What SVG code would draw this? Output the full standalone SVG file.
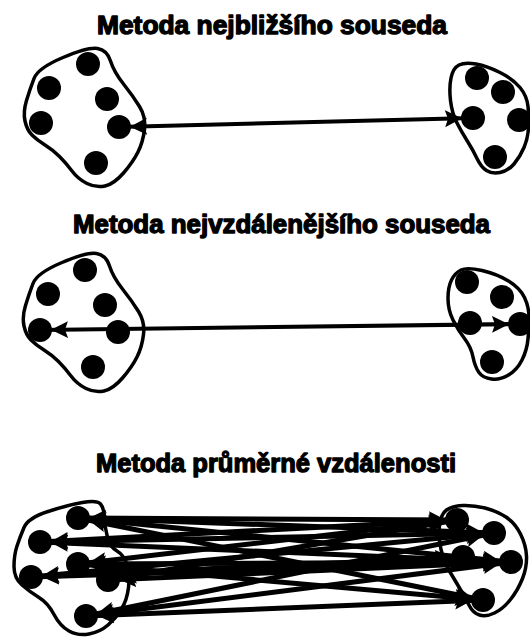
<svg xmlns="http://www.w3.org/2000/svg" width="530" height="637" viewBox="0 0 530 637">
<style>
.title{font-family:"Liberation Sans",Arial,sans-serif;font-weight:bold;font-size:25px;fill:#000;stroke:#000;stroke-width:1.3px;stroke-linejoin:round}
.blob{fill:none;stroke:#000;stroke-width:3.5;stroke-linejoin:round}
.dot{fill:#000}
.link{stroke:#000;stroke-width:4;fill:none;marker-start:url(#ah);marker-end:url(#ah)}
.link5{stroke-width:5}
</style>
<defs>
<marker id="ah" markerUnits="userSpaceOnUse" markerWidth="32" markerHeight="20" viewBox="0 -10 32 20" refX="28" refY="0" orient="auto-start-reverse">
<path d="M0,-8.5 L17,0 L0,8.5 L3,0 Z" fill="#000"/>
</marker>
<path id="blobL" d="M 34,78.5 Q 38,68 63,57.5 Q 88,47 97.5,48.5 Q 107,50 110.5,61 Q 114,72 123.5,84 Q 133,96 139.5,106.5 Q 146,117 144.5,129.5 Q 143,142 138,152 Q 133,162 123.5,173 Q 114,184 105,186 Q 96,188 87,183.5 Q 78,179 72,171 Q 66,163 59.5,156.5 Q 53,150 45,145 Q 37,140 32,135 Q 27,130 25,121 Q 23,112 26.5,100.5 Q 30,89 34,78.5 Z"/>
</defs>
<rect width="530" height="637" fill="#fff"/>

<text class="title" x="97" y="34" textLength="350" lengthAdjust="spacingAndGlyphs">Metoda nejbližšího souseda</text>
<text class="title" x="73" y="233" textLength="417" lengthAdjust="spacingAndGlyphs">Metoda nejvzdálenějšího souseda</text>
<text class="title" x="96" y="472" textLength="360" lengthAdjust="spacingAndGlyphs">Metoda průměrné vzdálenosti</text>

<g id="connectors">
<line class="link" x1="119" y1="127" x2="473" y2="118"/>
<line class="link" x1="40" y1="330" x2="520" y2="324"/>
<line class="link link5" x1="78" y1="518" x2="457" y2="520"/>
<line class="link link5" x1="78" y1="518" x2="494" y2="533"/>
<line class="link link5" x1="78" y1="518" x2="511" y2="562"/>
<line class="link link5" x1="78" y1="518" x2="483" y2="600"/>
<line class="link link5" x1="40" y1="542" x2="457" y2="520"/>
<line class="link link5" x1="40" y1="542" x2="494" y2="533"/>
<line class="link link5" x1="40" y1="542" x2="511" y2="562"/>
<line class="link link5" x1="78" y1="564" x2="457" y2="520"/>
<line class="link link5" x1="78" y1="564" x2="511" y2="562"/>
<line class="link link5" x1="78" y1="564" x2="483" y2="600"/>
<line class="link link5" x1="31" y1="577" x2="494" y2="533"/>
<line class="link link5" x1="31" y1="577" x2="511" y2="562"/>
<line class="link link5" x1="31" y1="577" x2="463" y2="557"/>
<line class="link link5" x1="108" y1="580" x2="457" y2="520"/>
<line class="link link5" x1="108" y1="580" x2="511" y2="562"/>
<line class="link link5" x1="86" y1="616" x2="483" y2="600"/>
<line class="link link5" x1="86" y1="616" x2="511" y2="562"/>
<line class="link link5" x1="86" y1="616" x2="494" y2="533"/>
</g>

<g id="cluster-top-left">
<use href="#blobL" class="blob"/>
<circle class="dot" cx="88" cy="64" r="12"/>
<circle class="dot" cx="49" cy="88" r="12"/>
<circle class="dot" cx="107" cy="99" r="12"/>
<circle class="dot" cx="41" cy="123" r="12"/>
<circle class="dot" cx="119" cy="127" r="12"/>
<circle class="dot" cx="96" cy="163" r="12"/>
</g>

<g id="cluster-top-right">
<path class="blob" d="M 451,78 Q 453,68 459,65 Q 465,62 476,64 Q 487,66 500,72.5 Q 513,79 520,87.5 Q 527,96 528,106.5 Q 529,117 528.5,127.5 Q 528,138 524,147.5 Q 520,157 514,164 Q 508,171 500,172.5 Q 492,174 486.5,170.5 Q 481,167 477,158.5 Q 473,150 467,140.5 Q 461,131 456.5,122 Q 452,113 450.5,100.5 Q 449,88 451,78 Z"/>
<circle class="dot" cx="477" cy="78" r="12"/>
<circle class="dot" cx="503" cy="92" r="12"/>
<circle class="dot" cx="473" cy="118" r="12"/>
<circle class="dot" cx="519" cy="120" r="12"/>
<circle class="dot" cx="495" cy="157" r="12"/>
</g>

<g id="cluster-middle-left" transform="translate(-1,205)">
<use href="#blobL" class="blob"/>
<circle class="dot" cx="86" cy="65" r="12"/>
<circle class="dot" cx="49" cy="89" r="12"/>
<circle class="dot" cx="106" cy="100" r="12"/>
<circle class="dot" cx="41" cy="125" r="12"/>
<circle class="dot" cx="119" cy="127" r="12"/>
<circle class="dot" cx="94" cy="162" r="12"/>
</g>

<g id="cluster-middle-right">
<path class="blob" d="M 451.5,280 Q 455,273 461,270 Q 467,267 482,270.5 Q 497,274 508.5,281 Q 520,288 524.5,297.5 Q 529,307 529,317.5 Q 529,328 528,339 Q 527,350 522,360 Q 517,370 508.5,375 Q 500,380 491.5,379 Q 483,378 479,372.5 Q 475,367 473,357 Q 471,347 464.5,338.5 Q 458,330 453,320 Q 448,310 448,298.5 Q 448,287 451.5,280 Z"/>
<circle class="dot" cx="467" cy="282" r="12"/>
<circle class="dot" cx="502" cy="297" r="12"/>
<circle class="dot" cx="470" cy="323" r="12"/>
<circle class="dot" cx="520" cy="324" r="12"/>
<circle class="dot" cx="492" cy="362" r="12"/>
</g>

<g id="cluster-bottom-left">
<path class="blob" d="M 24,527.5 Q 28,518 48,511.5 Q 68,505 82.5,502.5 Q 97,500 100.5,504 Q 104,508 104.5,518 Q 105,528 107.5,537.5 Q 110,547 117,551 Q 124,555 127,565 Q 130,575 128.5,587.5 Q 127,600 121.5,609 Q 116,618 108,625 Q 100,632 89,634 Q 78,636 69,631 Q 60,626 54,614.5 Q 48,603 39,597.5 Q 30,592 22,585 Q 14,578 14,566.5 Q 14,555 17,546 Q 20,537 24,527.5 Z"/>
<circle class="dot" cx="78" cy="518" r="12"/>
<circle class="dot" cx="40" cy="542" r="12"/>
<circle class="dot" cx="78" cy="564" r="12"/>
<circle class="dot" cx="31" cy="577" r="12"/>
<circle class="dot" cx="108" cy="580" r="12"/>
<circle class="dot" cx="86" cy="616" r="12"/>
</g>

<g id="cluster-bottom-right">
<path class="blob" d="M 439.5,525.5 Q 441,514 446.5,510 Q 452,506 462.5,505.5 Q 473,505 485,508 Q 497,511 506,517 Q 515,523 520.5,534 Q 526,545 526.5,556 Q 527,567 522.5,578.5 Q 518,590 510.5,599.5 Q 503,609 494.5,613 Q 486,617 479.5,615 Q 473,613 469.5,606 Q 466,599 461,590.5 Q 456,582 450,572 Q 444,562 441,549.5 Q 438,537 439.5,525.5 Z"/>
<circle class="dot" cx="457" cy="520" r="12"/>
<circle class="dot" cx="494" cy="533" r="12"/>
<circle class="dot" cx="463" cy="557" r="12"/>
<circle class="dot" cx="511" cy="562" r="12"/>
<circle class="dot" cx="483" cy="600" r="12"/>
</g>
</svg>
